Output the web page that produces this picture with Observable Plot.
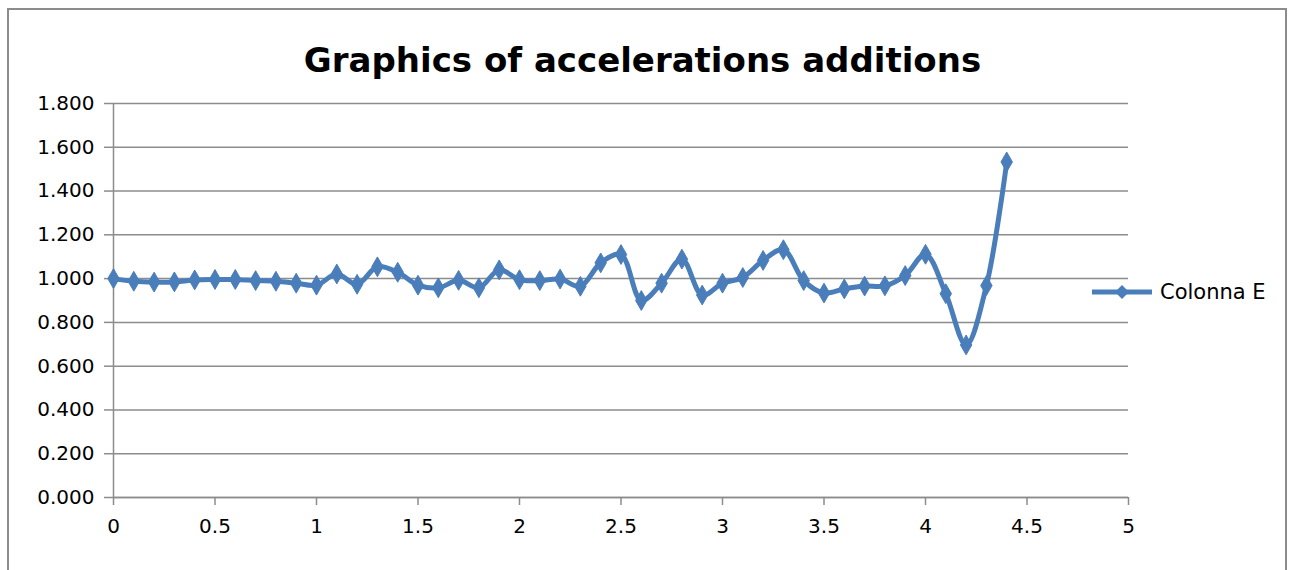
<!DOCTYPE html>
<html>
<head>
<meta charset="utf-8">
<script src="https://cdn.jsdelivr.net/npm/d3@7"></script>
<script src="https://cdn.jsdelivr.net/npm/@observablehq/plot@0.6"></script>
<style>
  html, body { margin: 0; padding: 0; background: #fff; }
  #wrap { position: relative; width: 1291px; height: 570px; overflow: hidden; font-family: "DejaVu Sans", sans-serif; }
  #frame { position: absolute; left: 7px; top: 8px; width: 1280px; height: 600px; border: 2px solid #8c8c8c; box-sizing: border-box; }
  #title { position: absolute; left: 0; width: 1285px; top: 40px; text-align: center; font-weight: bold; font-size: 34px; color: #000; }
  #legend { position: absolute; left: 1092px; top: 279px; font-size: 21px; color: #000; display: flex; align-items: center; }
  #chart { position: absolute; left: 0; top: 0; }
</style>
</head>
<body>
<div id="wrap">
  <div id="frame"></div>
  <div id="chart"></div>
  <div id="title">Graphics of accelerations additions</div>
  <div id="legend"><svg width="62" height="26"><line x1="0" y1="13" x2="60" y2="13" stroke="#4a7ebb" stroke-width="5"/><path d="M30,6 L37,13 L30,20 L23,13 Z" fill="#4a7ebb"/></svg><span style="margin-left:6px">Colonna E</span></div>
</div>
<script>
const seriesName = "Colonna E";
const xValues = [0,0.1,0.2,0.3,0.4,0.5,0.6,0.7,0.8,0.9,1.0,1.1,1.2,1.3,1.4,1.5,1.6,1.7,1.8,1.9,2.0,2.1,2.2,2.3,2.4,2.5,2.6,2.7,2.8,2.9,3.0,3.1,3.2,3.3,3.4,3.5,3.6,3.7,3.8,3.9,4.0,4.1,4.2,4.3,4.4];
const yValues = [1.000,0.988,0.984,0.985,0.994,0.996,0.996,0.991,0.988,0.979,0.970,1.021,0.974,1.054,1.029,0.970,0.958,0.992,0.958,1.040,0.995,0.991,0.998,0.965,1.072,1.110,0.900,0.979,1.089,0.925,0.979,1.005,1.083,1.132,0.991,0.934,0.953,0.966,0.967,1.014,1.111,0.931,0.697,0.968,1.533];
const yTicks = [0,0.2,0.4,0.6,0.8,1.0,1.2,1.4,1.6,1.8];
const xTicks = [0,0.5,1,1.5,2,2.5,3,3.5,4,4.5,5];

const data = xValues.map((x, i) => ({x, y: yValues[i]}));
const blue = "#4a7ebb";
const grid = "#8c8c8c";

const chart = Plot.plot({
  width: 1291,
  height: 570,
  marginLeft: 113,
  marginRight: 163,
  marginTop: 103,
  marginBottom: 73,
  style: {fontFamily: "DejaVu Sans, sans-serif", fontSize: "20px", color: "#000", background: "transparent"},
  x: {domain: [0, 5], ticks: xTicks},
  y: {domain: [0, 1.8], ticks: yTicks},
  marks: [
    Plot.gridY(yTicks, {stroke: grid, strokeOpacity: 1, strokeWidth: 1.5}),
    Plot.ruleX([0], {stroke: grid, strokeWidth: 1.5}),
    Plot.ruleY([0], {stroke: grid, strokeWidth: 1.5}),
    Plot.axisY(yTicks, {tickSize: 9, tickPadding: 10, stroke: grid, strokeWidth: 1.5, tickFormat: d3.format(".3f"), label: null, fill: "#000"}),
    Plot.axisX(xTicks, {tickSize: 8, tickPadding: 13, stroke: grid, strokeWidth: 1.5, tickFormat: d => String(d), label: null, fill: "#000"}),
    Plot.line(data, {x: "x", y: "y", curve: "catmull-rom", stroke: blue, strokeWidth: 5}),
    Plot.dot(data, {x: "x", y: "y", symbol: "diamond", r: 6, fill: blue, stroke: blue, strokeWidth: 1})
  ]
});
document.getElementById("chart").appendChild(chart);
</script>
</body>
</html>
